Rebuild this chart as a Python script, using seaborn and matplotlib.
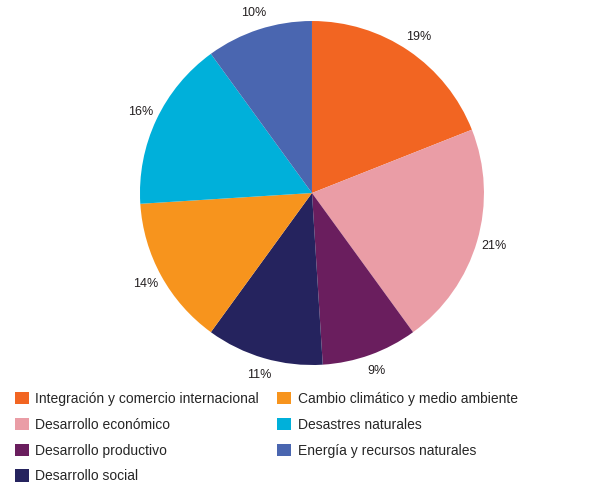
import matplotlib
matplotlib.use("Agg")
import matplotlib.pyplot as plt
import seaborn as sns

# Data
categories = [
    "Integración y comercio internacional",
    "Desarrollo económico",
    "Desarrollo productivo",
    "Desarrollo social",
    "Cambio climático y medio ambiente",
    "Desastres naturales",
    "Energía y recursos naturales",
]
shares = [19, 21, 9, 11, 14, 16, 10]
colors = ["#F26522", "#EA9DA6", "#6A1E5E", "#25235E", "#F7941D", "#00B0DA", "#4A66B0"]

sns.set_style("white")
plt.rcParams["font.family"] = ["Liberation Sans", "DejaVu Sans"]

fig = plt.figure(figsize=(6.07, 4.83), dpi=100)
ax = fig.add_axes([0.2306, 0.2443, 0.5667, 0.7122])

wedges, texts, autotexts = ax.pie(
    shares,
    colors=colors,
    startangle=90,
    counterclock=False,
    autopct="%d%%",
    pctdistance=1.1,
    wedgeprops={"linewidth": 0},
    textprops={"fontsize": 9, "color": "#231F20"},
)
ax.set_xlim(-1, 1)
ax.set_ylim(-1, 1)
ax.set_aspect("equal")

fig.legend(
    wedges,
    categories,
    loc="upper left",
    bbox_to_anchor=(0.015, 0.2),
    ncol=2,
    frameon=False,
    fontsize=10,
    handlelength=1.0,
    handleheight=1.0,
    handletextpad=0.5,
    columnspacing=1.3,
    labelspacing=0.85,
    borderaxespad=0,
)

fig.savefig("out.png", dpi=100)
